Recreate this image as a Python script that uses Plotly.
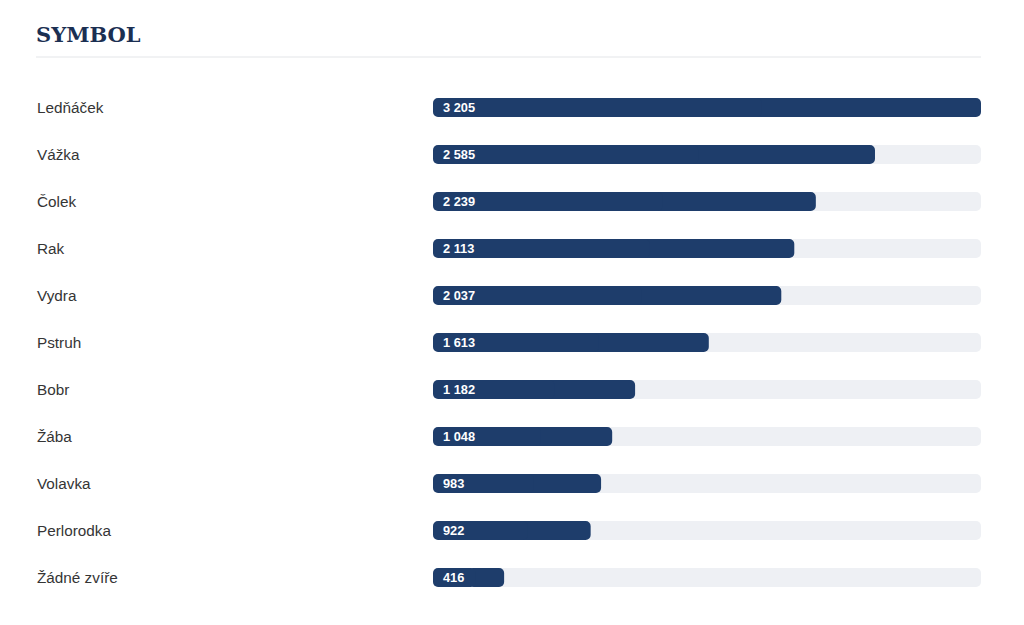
import plotly.graph_objects as go

# values
animals = ["Ledňáček", "Vážka", "Čolek", "Rak", "Vydra", "Pstruh",
           "Bobr", "Žába", "Volavka", "Perlorodka", "Žádné zvíře"]
votes = [3205, 2585, 2239, 2113, 2037, 1613, 1182, 1048, 983, 922, 416]

W, H = 1024, 625
# the page is drawn with a small body margin, pull everything back by it
dx, dy = 9, 8
navy = "#1e3d6b"
track = "#eef0f4"
row = 47            # px per row
top = 76            # whole pixels so bar edges land on the pixel grid
plot_h = row * len(animals)
bottom = H - top - plot_h
bar_w = 19 / row

max_v = max(votes)


def rounded_bar(values, color):
    # two overlapping halves, each rounded at its tip -> both ends rounded
    right = go.Bar(y=animals, x=[v * 0.5 for v in values],
                   base=[v * 0.5 for v in values], orientation="h",
                   marker=dict(color=color, line=dict(width=0)),
                   width=bar_w, hoverinfo="skip")
    left = go.Bar(y=animals, x=[-v * 0.6 for v in values],
                  base=[v * 0.6 for v in values], orientation="h",
                  marker=dict(color=color, line=dict(width=0)),
                  width=bar_w, hoverinfo="skip")
    return [right, left]


fig = go.Figure()
fig.add_traces(rounded_bar([max_v] * len(animals), track))
fig.add_traces(rounded_bar(votes, navy))

# names on the left
for a in animals:
    fig.add_annotation(
        x=(36 - dx) / W, xref="paper", y=a, yref="y", text=a,
        xanchor="left", yanchor="middle", showarrow=False,
        font=dict(family="Liberation Sans, Arial", size=15.3, color="#353535"),
    )

# values inside the bars
for a, v in zip(animals, votes):
    fig.add_annotation(
        x=0, y=a, text=f"{v:,}".replace(",", " "),
        xanchor="left", yanchor="middle", xshift=8, showarrow=False,
        font=dict(family="Liberation Sans, Arial", size=12.8, color="white",
                  weight="bold"),
    )

# separator under the title
line_y = 1 + (top - (57 - dy)) / plot_h
fig.add_shape(type="line", xref="paper", yref="paper",
              x0=(37 - dx) / W, x1=(982 - dx) / W, y0=line_y, y1=line_y,
              line=dict(color="#e3e5e8", width=1))

fig.update_layout(
    width=W, height=H,
    margin=dict(l=0, r=0, t=top, b=bottom, pad=0),
    paper_bgcolor="white", plot_bgcolor="white",
    barmode="overlay", barcornerradius=5,
    showlegend=False,
    title=dict(text="<b>SYMBOL</b>", x=(37 - dx) / W, xref="container",
               xanchor="left", y=1 - (35 - dy) / H, yref="container",
               yanchor="middle",
               font=dict(family="DejaVu Serif", size=21, color="#1b2f52")),
    xaxis=dict(domain=[(434 - dx) / W, (982 - dx) / W], range=[0, max_v],
               visible=False, fixedrange=True),
    yaxis=dict(range=[len(animals) - 0.5, -0.5], visible=False,
               fixedrange=True),
)

fig.write_html("out.html")
